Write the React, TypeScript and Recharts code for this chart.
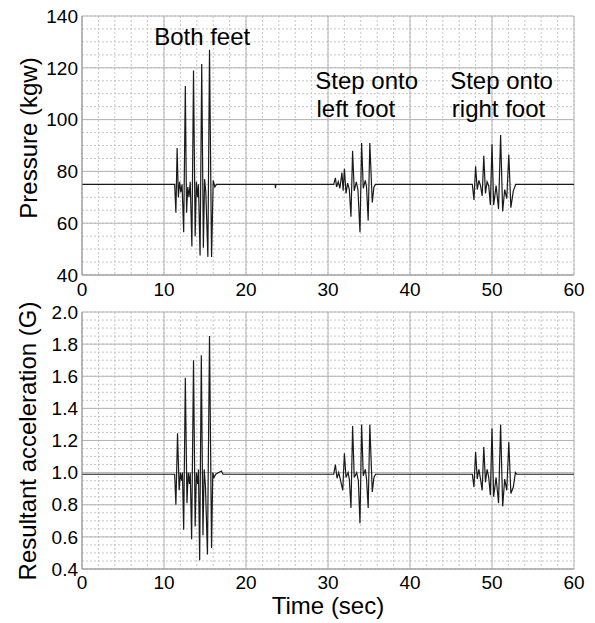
import React from 'react';
import {
    LineChart,
    Line,
    XAxis,
    YAxis,
    CartesianGrid,
    ReferenceDot,
} from 'recharts';

// time axis (sec)
const timeTicks = [0, 10, 20, 30, 40, 50, 60];
const timeMinor = [0, 2, 4, 6, 8, 10, 12, 14, 16, 18, 20, 22, 24, 26, 28, 30, 32, 34, 36, 38, 40, 42, 44, 46, 48, 50, 52, 54, 56, 58, 60];

// pressure panel
const pressureTicks = [40, 60, 80, 100, 120, 140];
const pressureMinor = [40, 45, 50, 55, 60, 65, 70, 75, 80, 85, 90, 95, 100, 105, 110, 115, 120, 125, 130, 135, 140];
const pressureTime = [
    0, 11.3, 11.45, 11.6, 11.75, 11.9, 12.05, 12.2, 12.4, 12.6, 12.75, 12.9, 13.05, 13.2, 13.4, 13.6, 13.8, 13.95, 14.1, 14.2,
    14.4, 14.6, 14.8, 14.95, 15.1, 15.35, 15.55, 15.8, 16.0, 16.2, 16.4, 23.55, 23.6, 23.65,
    30.7, 30.9, 31.05, 31.25, 31.45, 31.7, 31.85, 32.0, 32.2, 32.4, 32.6, 32.8, 33.0, 33.2, 33.45, 33.65, 33.9, 34.1, 34.3,
    34.55, 34.7, 34.9, 35.1, 35.4, 35.6, 35.8,
    47.6, 47.8, 48.0, 48.2, 48.4, 48.6, 48.8, 49.0, 49.2, 49.4, 49.6, 49.8, 50.0, 50.2, 50.5, 50.8, 51.05, 51.3, 51.55, 51.8,
    52.05, 52.3, 52.6, 52.9, 60,
];
const pressureKgw = [
    75, 75, 64, 89, 70, 76, 72, 75, 56.5, 113, 64, 74, 70, 76, 51, 119, 55, 76, 70, 75,
    47.5, 121.5, 50.5, 77, 72, 47, 127, 47, 76.5, 74, 75, 75, 73.5, 75,
    75, 77.5, 74, 76, 73.5, 79.5, 72.5, 81, 71.5, 75.5, 73, 62.5, 88, 72.5, 76, 73, 56.5, 91, 73.5,
    76.5, 74, 61, 91, 68, 74, 75,
    75, 69, 82, 73, 76.5, 74.5, 70.5, 86, 71.5, 76, 74.5, 67, 90.5, 67, 74.5, 65.5, 94, 64.5, 73, 69.5,
    86.5, 66, 72.5, 75, 75,
];

// acceleration panel
const accelTicks = [0.4, 0.6, 0.8, 1.0, 1.2, 1.4, 1.6, 1.8, 2.0];
const accelMinor = [
    0.4, 0.45, 0.5, 0.55, 0.6, 0.65, 0.7, 0.75, 0.8, 0.85, 0.9, 0.95, 1.0, 1.05, 1.1, 1.15, 1.2, 1.25, 1.3, 1.35, 1.4,
    1.45, 1.5, 1.55, 1.6, 1.65, 1.7, 1.75, 1.8, 1.85, 1.9, 1.95, 2.0,
];
const accelTime = [
    0, 11.3, 11.45, 11.65, 11.85, 12.0, 12.15, 12.25, 12.4, 12.6, 12.8, 12.95, 13.1, 13.2, 13.37, 13.6, 13.8, 13.95, 14.1,
    14.2, 14.35, 14.55, 14.75, 14.9, 15.05, 15.3, 15.55, 15.8, 15.95, 16.1, 16.3, 17.0, 17.2,
    30.7, 30.9, 31.1, 31.3, 31.5, 31.8, 32.0, 32.2, 32.45, 32.6, 32.8, 33.0, 33.2, 33.5, 33.7, 33.9, 34.1, 34.3, 34.55,
    34.7, 34.9, 35.1, 35.4, 35.6, 35.8,
    47.6, 47.8, 48.0, 48.2, 48.4, 48.6, 48.8, 49.0, 49.2, 49.4, 49.6, 49.8, 50.0, 50.2, 50.5, 50.8, 51.05, 51.3, 51.55,
    51.8, 52.05, 52.3, 52.6, 52.85, 53.0, 60,
];
const accelG = [
    0.99, 0.99, 0.8, 1.245, 0.89, 1.0, 0.95, 1.0, 0.645, 1.59, 0.81, 1.0, 0.93, 1.0, 0.585, 1.7, 0.665, 1.0, 0.93,
    1.02, 0.455, 1.73, 0.61, 1.02, 0.92, 0.49, 1.85, 0.53, 1.0, 0.97, 0.99, 1.01, 0.99,
    0.99, 1.05, 0.965, 1.0, 0.96, 0.89, 1.12, 0.97, 1.0, 0.96, 0.78, 1.29, 0.97, 1.0, 0.95, 0.685, 1.3, 0.98, 1.02,
    0.96, 0.78, 1.3, 0.88, 0.97, 0.99,
    0.99, 0.91, 1.13, 0.96, 1.02, 0.96, 0.89, 1.16, 0.94, 1.02, 0.97, 0.86, 1.275, 0.85, 0.97, 0.81, 1.3, 0.79, 0.96,
    0.89, 1.19, 0.87, 0.91, 1.0, 0.99, 0.99,
];

const FONT = '"Liberation Sans", Arial, Helvetica, sans-serif';
const tickStyle = { fontSize: 19, fill: '#000', fontFamily: FONT };
const GRID_MINOR = '#c6c6c6';
const GRID_MAJOR = '#b4b4b4';
const FRAME = '#9a9a9a';

const pressureData = pressureTime.map((t, i) => ({ t, v: pressureKgw[i] }));
const accelData = accelTime.map((t, i) => ({ t, v: accelG[i] }));

const noteLabel = (value: string) => ({
    value,
    position: 'right' as const,
    offset: 0,
    fontSize: 24,
    fill: '#000',
    fontFamily: FONT,
});

const YTitle = ({ text, x, y }: { text: string; x: number; y: number }) => (
    <text
        x={x}
        y={y}
        transform={`rotate(-90, ${x}, ${y})`}
        textAnchor="middle"
        fontSize={24}
        fontFamily={FONT}
        fill="#000"
    >
        {text}
    </text>
);

const App: React.FC = () => {
    return (
        <div style={{ position: 'absolute', top: 0, left: 0, width: 595, height: 623, background: '#fff' }}>
            <LineChart width={595} height={300} data={pressureData} margin={{ top: 16, right: 21, left: 0, bottom: 0 }}>
                <CartesianGrid
                    stroke={GRID_MINOR}
                    strokeDasharray="2 2"
                    verticalValues={timeMinor}
                    horizontalValues={pressureMinor}
                />
                <CartesianGrid stroke={GRID_MAJOR} verticalValues={timeTicks} horizontalValues={pressureTicks} />
                <XAxis
                    dataKey="t"
                    type="number"
                    domain={[0, 60]}
                    ticks={timeTicks}
                    height={25}
                    tickSize={0}
                    tickMargin={8}
                    tick={tickStyle}
                    axisLine={{ stroke: FRAME }}
                    interval={0}
                />
                <YAxis
                    type="number"
                    domain={[40, 140]}
                    ticks={pressureTicks}
                    width={82}
                    tickSize={0}
                    tickMargin={4}
                    tick={tickStyle}
                    axisLine={{ stroke: FRAME }}
                    interval={0}
                    label={{ content: () => <YTitle text="Pressure (kgw)" x={37} y={138} /> }}
                />
                <Line
                    dataKey="v"
                    type="linear"
                    stroke="#1a1a1a"
                    strokeWidth={1.2}
                    dot={false}
                    isAnimationActive={false}
                />
                <ReferenceDot x={8.8} y={132} r={0} stroke="none" label={noteLabel('Both feet')} />
                <ReferenceDot x={28.45} y={115} r={0} stroke="none" label={noteLabel('Step onto')} />
                <ReferenceDot x={28.6} y={104.3} r={0} stroke="none" label={noteLabel('left foot')} />
                <ReferenceDot x={44.9} y={115} r={0} stroke="none" label={noteLabel('Step onto')} />
                <ReferenceDot x={45.1} y={104.3} r={0} stroke="none" label={noteLabel('right foot')} />
            </LineChart>
            <LineChart width={595} height={323} data={accelData} margin={{ top: 12, right: 21, left: 0, bottom: 0 }}>
                <CartesianGrid
                    stroke={GRID_MINOR}
                    strokeDasharray="2 2"
                    verticalValues={timeMinor}
                    horizontalValues={accelMinor}
                />
                <CartesianGrid stroke={GRID_MAJOR} verticalValues={timeTicks} horizontalValues={accelTicks} />
                <XAxis
                    dataKey="t"
                    type="number"
                    domain={[0, 60]}
                    ticks={timeTicks}
                    height={54}
                    tickSize={0}
                    tickMargin={7}
                    tick={tickStyle}
                    axisLine={{ stroke: FRAME }}
                    interval={0}
                    label={{
                        value: 'Time (sec)',
                        position: 'insideBottom',
                        offset: 9,
                        fontSize: 24,
                        fill: '#000',
                        fontFamily: FONT,
                    }}
                />
                <YAxis
                    type="number"
                    domain={[0.4, 2.0]}
                    ticks={accelTicks}
                    width={82}
                    tickSize={0}
                    tickMargin={4}
                    tick={tickStyle}
                    tickFormatter={(v: number) => v.toFixed(1)}
                    axisLine={{ stroke: FRAME }}
                    interval={0}
                    label={{ content: () => <YTitle text="Resultant acceleration (G)" x={36} y={141} /> }}
                />
                <Line
                    dataKey="v"
                    type="linear"
                    stroke="#1a1a1a"
                    strokeWidth={1.2}
                    dot={false}
                    isAnimationActive={false}
                />
            </LineChart>
        </div>
    );
};

export default App;
